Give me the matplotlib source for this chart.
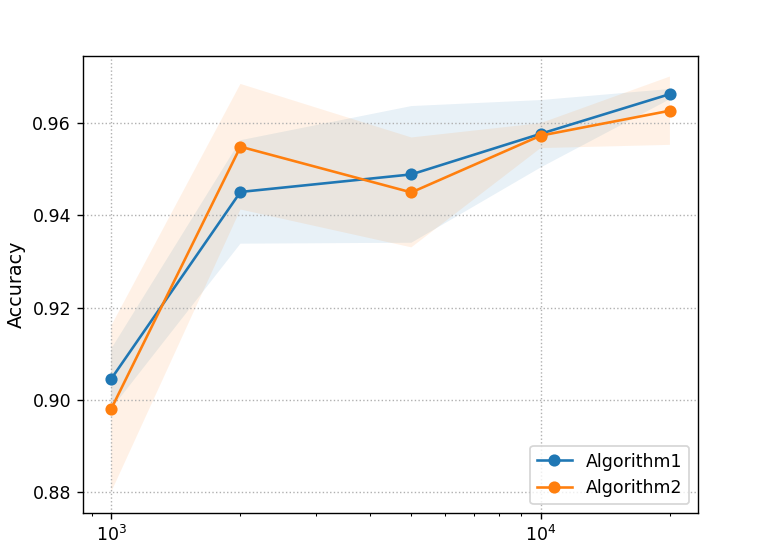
import matplotlib
matplotlib.use("Agg")
import matplotlib.pyplot as plt
import numpy as np

# sample sizes
sizes = [1000, 2000, 5000, 10000, 20000]

# mean accuracy and spread
acc1 = np.array([0.9046, 0.9451, 0.9489, 0.9577, 0.9663])
std1 = np.array([0.0065, 0.0112, 0.0148, 0.0073, 0.0011])
acc2 = np.array([0.8981, 0.9549, 0.9450, 0.9573, 0.9627])
std2 = np.array([0.0180, 0.0136, 0.0119, 0.0027, 0.0074])

# drawn at 125 dpi so everything comes out a bit larger, like the reference
fig = plt.figure(figsize=(6.224, 4.416), dpi=125)
ax = fig.add_axes([0.107, 0.071, 0.790, 0.828])

ax.plot(sizes, acc1, marker='o', label='Algorithm1')
ax.fill_between(sizes, acc1 - std1, acc1 + std1, alpha=0.1)
ax.plot(sizes, acc2, marker='o', label='Algorithm2')
ax.fill_between(sizes, acc2 - std2, acc2 + std2, alpha=0.1)

ax.set_xscale('log')
ax.set_ylabel('Accuracy', fontsize=11)
ax.grid(linestyle=':')
ax.legend(loc='lower right')

fig.savefig('out.png', dpi=125)
